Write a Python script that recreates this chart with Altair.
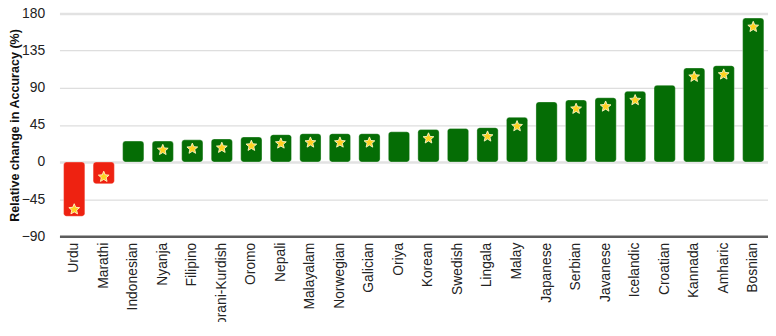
import math
import altair as alt
import pandas as pd

languages = ["Urdu", "Marathi", "Indonesian", "Nyanja", "Filipino", "Sorani-Kurdish",
             "Oromo", "Nepali", "Malayalam", "Norwegian", "Galician", "Oriya", "Korean",
             "Swedish", "Lingala", "Malay", "Japanese", "Serbian", "Javanese", "Icelandic",
             "Croatian", "Kannada", "Amharic", "Bosnian"]
change = [-65.8, -26.4, 25.4, 25.4, 26.9, 28.0, 30.4, 33.2, 34.4, 34.4, 34.4, 36.7, 39.4,
          40.6, 41.7, 54.2, 72.9, 75.3, 78.0, 85.8, 93.1, 114.1, 116.9, 174.6]
starred = [True, True, False, True, True, True, True, True, True, True, True, False, True,
           False, True, True, False, True, True, True, False, True, True, True]
y_ticks = [-90, -45, 0, 45, 90, 135, 180]

df = pd.DataFrame({"language": languages, "change": change,
                   "star": [1 if s else 0 for s in starred]})

FONT = "Liberation Sans"
GREEN = "#056d05"
RED = "#ee2211"

# five-pointed star symbol as a custom unit path
pts = []
for k in range(10):
    r = 1.0 if k % 2 == 0 else 0.45
    a = math.radians(-90 + 36 * k)
    pts.append(f"{r * math.cos(a):.3f},{r * math.sin(a):.3f}")
STAR = "M" + " L".join(pts) + " Z"

x = alt.X("language:N", sort=languages, title=None,
          scale=alt.Scale(paddingInner=0.28, paddingOuter=0.14),
          axis=alt.Axis(orient="bottom", labelAngle=-90, labelAlign="right",
                        labelBaseline="middle",
                        labelPadding=6, ticks=False, domainColor="#5c5c5c", domainWidth=2.5,
                        labelFont=FONT, labelFontSize=14, labelColor="#222222",
                        labelLimit=200))
y = alt.Y("change:Q", title="Relative change in Accuracy (%)",
          scale=alt.Scale(domain=[-90, 180], nice=False, zero=False),
          axis=alt.Axis(values=y_ticks, domain=False, ticks=False, labelPadding=15,
                        labelFont=FONT, labelFontSize=14, labelColor="#222222",
                        titleFont=FONT, titleFontSize=12.7, titleFontWeight="bold",
                        titleColor="#111111", titleX=-38,
                        gridColor={"condition": {"test": "datum.value === 0 || datum.value === 180",
                                                 "value": "#e2e2e2"}, "value": "#d4d4d4"},
                        gridWidth={"condition": {"test": "datum.value === 0 || datum.value === 180",
                                                 "value": 2.5}, "value": 1}))

base = alt.Chart(df).encode(x=x, y=y)

bars = base.mark_bar(cornerRadius=3, stroke="white", strokeOpacity=0.35,
                     strokeWidth=1).encode(
    y2=alt.datum(0),
    color=alt.condition("datum.change < 0", alt.value(RED), alt.value(GREEN)),
)

star_pos = base.transform_filter("datum.star == 1 && datum.change > 0").mark_point(
    shape=STAR, filled=True, size=130, fill="#ffd21f", stroke="#fff6c8",
    strokeWidth=0.9, opacity=1, yOffset=9)
star_neg = base.transform_filter("datum.star == 1 && datum.change < 0").mark_point(
    shape=STAR, filled=True, size=130, fill="#ffd21f", stroke="#fff6c8",
    strokeWidth=0.9, opacity=1, yOffset=-7)

chart = alt.layer(bars, star_pos, star_neg).properties(
    width=716, height=225,
    autosize=alt.AutoSizeParams(type="none"),
    padding={"left": 52, "top": 4, "right": 0, "bottom": 85},
).configure_view(stroke=None)

chart.save("out.html", embed_options={"renderer": "svg", "actions": False})
